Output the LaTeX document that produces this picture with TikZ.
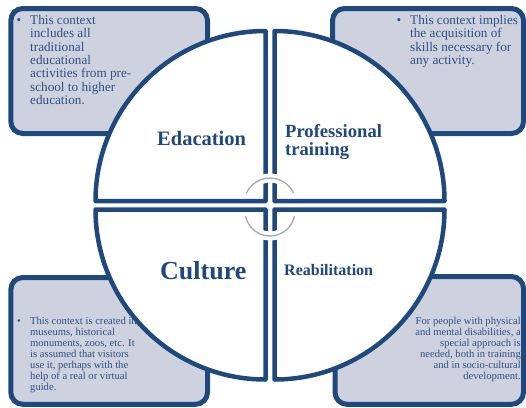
\documentclass[tikz,border=0pt]{standalone}
\usepackage{fontspec}
\setmainfont{Liberation Serif}
\definecolor{navy}{RGB}{31,73,125}
\definecolor{boxfill}{RGB}{206,210,222}
\definecolor{boxtext}{RGB}{47,80,135}
\definecolor{arcgray}{RGB}{160,168,185}
\begin{document}
\begin{tikzpicture}[x=1pt,y=-1pt,
  cbox/.style={draw=navy, line width=5pt, fill=boxfill, rounded corners=12pt},
  quad/.style={draw=navy, line width=4.5pt, fill=white, line join=round},
  lbl/.style={text=navy, inner sep=0pt},
  btxt/.style={text=boxtext, inner sep=0pt},
  bigtxt/.style={font=\fontsize{13.2}{13.4}\selectfont},
  smalltxt/.style={font=\fontsize{10.6}{11.1}\selectfont},
  halo/.style={white, line width=9pt},
  cyc/.style={draw=arcgray, line width=1.3pt}
]
\useasboundingbox (0,0) rectangle (526,407);

% corner boxes
\draw[cbox] (10.8,8.5) rectangle (207.5,133.5);
\draw[cbox] (332.5,8.5) rectangle (523.5,133.5);
\draw[cbox] (10.8,277.5) rectangle (207.5,404.3);
\draw[cbox] (335,276.5) rectangle (523.5,404.3);

% box texts
\node[btxt, bigtxt, anchor=base] (tlb) at (19,24) {•};
\node[btxt, bigtxt, align=left, anchor=north west] (tlt) at (30,15)
  {This context\\includes all\\traditional\\educational\\activities from pre-\\school to higher\\education.};
\node[btxt, bigtxt, anchor=base] (trb) at (399,24) {•};
\node[btxt, bigtxt, align=left, anchor=north west] (trt) at (410,15)
  {This context implies\\the acquisition of\\skills necessary for\\any activity.};
\node[btxt, smalltxt, anchor=base] (blb) at (19,324) {•};
\node[btxt, smalltxt, align=left, anchor=north west] (blt) at (30,316.5)
  {This context is created in\\museums, historical\\monuments, zoos, etc. It\\is assumed that visitors\\use it, perhaps with the\\help of a real or virtual\\guide.};
\node[btxt, smalltxt, align=right, anchor=north east] (brt) at (521,316.5)
  {For people with physical\\and mental disabilities, a\\special approach is\\needed, both in training\\and in socio-cultural\\development.};

% quadrants
\draw[quad] (265.5,201) -- ++(-170,0) arc[start angle=180, end angle=270, radius=170] -- cycle;
\draw[quad] (274.5,201) -- ++(0,-170) arc[start angle=270, end angle=360, radius=170] -- cycle;
\draw[quad] (265.5,209.5) -- ++(-170,0) arc[start angle=180, end angle=90, radius=170] -- cycle;
\draw[quad] (274.5,209.5) -- ++(170,0) arc[start angle=0, end angle=90, radius=170] -- cycle;

% labels
\node[lbl, font=\fontsize{20.5}{24}\selectfont\bfseries, anchor=base west] (edu) at (157,145) {Edacation};
\node[lbl, font=\fontsize{18.6}{17.8}\selectfont\bfseries, align=left, anchor=north west] (prof) at (285,124) {Professional\\training};
\node[lbl, font=\fontsize{26}{30}\selectfont\bfseries, anchor=base west] (cult) at (160,279.5) {Culture};
\node[lbl, font=\fontsize{16}{19}\selectfont\bfseries, anchor=base west] (reab) at (284,275) {Reabilitation};

% central cycle arcs
\draw[halo] (270,204) ++(205:26) arc[start angle=205, end angle=335, radius=26];
\draw[halo] (270,211) ++(12:25) arc[start angle=12, end angle=168, radius=25];
\draw[cyc] (270,204) ++(205:26) arc[start angle=205, end angle=335, radius=26];
\draw[cyc] (270,211) ++(12:25) arc[start angle=12, end angle=168, radius=25];
\end{tikzpicture}
\end{document}
